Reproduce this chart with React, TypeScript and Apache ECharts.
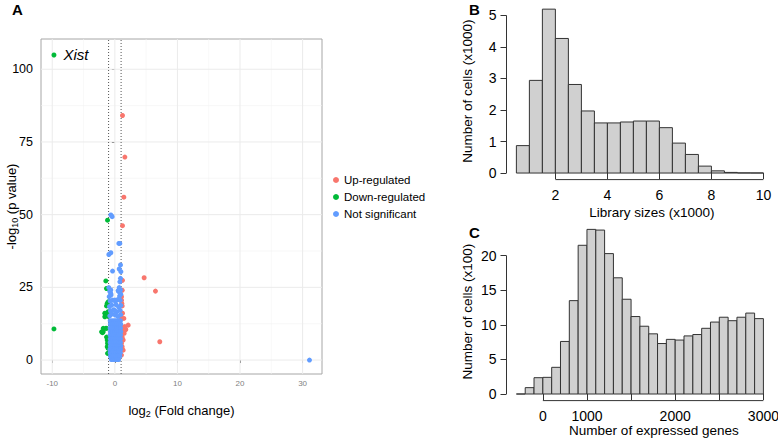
import React, { useEffect, useRef } from 'react';
import * as echarts from 'echarts';

const FONT = "'Liberation Sans', Arial, Helvetica, sans-serif";

// ---------- Panel A: volcano plot ----------
const upRegulated: number[][] = [
  [1.22, 84.1], [1.6, 69.8], [1.44, 56.0], [1.22, 46.2], [4.68, 28.3], [6.49, 23.7],
  [1.22, 27.4], [1.17, 24.0], [1.06, 21.8], [1.06, 20.6], [1.11, 19.5], [1.17, 18.6],
  [1.22, 16.1], [1.06, 14.4], [1.44, 14.3], [1.11, 11.6], [1.6, 11.5], [1.75, 10.5],
  [1.6, 10.9], [2.13, 12.0], [1.44, 10.1], [1.49, 9.2], [1.22, 9.2], [1.11, 8.0],
  [1.17, 7.8], [1.33, 6.9], [1.06, 5.8], [1.17, 4.6], [1.11, 4.0], [1.33, 3.4],
  [1.06, 1.7], [7.18, 6.3],
];

const downRegulated: number[][] = [
  [-9.73, 104.9], [-1.17, 48.1], [-1.44, 27.2], [-1.33, 24.6], [-1.07, 20.0], [-1.22, 19.5],
  [-1.33, 18.6], [-1.07, 16.6], [-1.6, 16.1], [-1.44, 15.5], [-1.07, 15.0], [-1.6, 14.9],
  [-1.86, 10.9], [-1.44, 10.9], [-1.33, 10.9], [-2.12, 9.7], [-1.97, 9.4], [-1.86, 9.7],
  [-1.33, 7.9], [-1.17, 7.5], [-1.22, 6.9], [-1.17, 5.8], [-1.22, 4.6], [-1.07, 4.0],
  [-1.17, 2.3], [-9.73, 10.7],
];
const labelledGene = 'Xist';
const labelledGeneIndex = 0;

const notSignificant: number[][] = [
  [-0.64, 49.9], [-0.43, 49.3], [0.64, 40.1], [0.8, 40.1], [-0.96, 36.3], [-0.64, 36.9],
  [-0.37, 30.6], [0.9, 32.7], [0.69, 31.3], [0.96, 30.4], [0.9, 28.1], [0.8, 26.9],
  [-0.96, 24.9], [-0.64, 24.1], [0.69, 24.9], [0.9, 24.1],
  [-0.8, 23.6], [-0.65, 22.9], [0.55, 23.7], [0.8, 23.1], [0.53, 23.9],
  [-0.9, 21.8], [-0.6, 22.4], [0.75, 22.0], [0.95, 22.6],
  [-0.75, 20.3], [-0.35, 20.6], [0.0, 20.6], [0.1, 20.2], [0.45, 20.8], [0.85, 20.5],
  [-0.85, 18.4], [-0.5, 18.9], [0.6, 18.2], [0.95, 18.8], [0.2, 19.0],
  [-0.7, 16.9], [-0.2, 17.3], [0.3, 16.6], [0.85, 17.1], [0.0, 17.0],
  [-0.8, 15.2], [-0.45, 15.8], [0.05, 15.5], [0.5, 15.0], [0.92, 15.6],
  [-0.75, 13.5], [-0.41, 13.5], [-0.07, 13.5], [0.25, 13.5], [0.56, 13.5], [0.9, 13.5],
  [-0.72, 12.3], [-0.39, 12.3], [-0.03, 12.3], [0.3, 12.3], [0.61, 12.3], [0.94, 12.3],
  [-0.76, 11.0], [-0.42, 11.0], [-0.06, 11.0], [0.27, 11.0], [0.59, 11.0], [0.92, 11.0],
  [-0.73, 9.8], [-0.37, 9.8], [0.0, 9.8], [0.32, 9.8], [0.63, 9.8], [0.95, 9.8],
  [-0.77, 8.6], [-0.43, 8.6], [-0.09, 8.6], [0.26, 8.6], [0.57, 8.6], [0.91, 8.6],
  [-0.74, 7.3], [-0.4, 7.3], [-0.05, 7.3], [0.28, 7.3], [0.6, 7.3], [0.93, 7.3],
  [-0.76, 6.1], [-0.44, 6.1], [-0.1, 6.1], [0.24, 6.1], [0.58, 6.1], [0.9, 6.1],
  [-0.72, 4.9], [-0.38, 4.9], [-0.02, 4.9], [0.3, 4.9], [0.62, 4.9], [0.95, 4.9],
  [-0.78, 3.7], [-0.42, 3.7], [-0.08, 3.7], [0.25, 3.7], [0.6, 3.7], [0.92, 3.7],
  [-0.75, 2.5], [-0.45, 2.5], [-0.12, 2.5], [0.22, 2.5], [0.55, 2.5], [0.88, 2.5],
  [-0.7, 1.3], [-0.4, 1.3], [-0.1, 1.3], [0.2, 1.3], [0.5, 1.3], [0.8, 1.3],
  [-0.55, 0.2], [-0.25, 0.2], [0.05, 0.2], [0.35, 0.2], [0.6, 0.2],
  [31.1, 0.0],
];

const foldChangeThresholds = [-1, 1];
const volcanoXTicks = [-10, 0, 10, 20, 30];
const volcanoYTicks = [0, 25, 50, 75, 100];
const volcanoXMajorGrid = [-10, 0, 10, 20, 30];
const volcanoXMinorGrid = [-5, 5, 15, 25];
const volcanoYMajorGrid = [0, 25, 50, 75, 100];
const volcanoYMinorGrid = [12.5, 37.5, 62.5, 87.5];
const volcanoXRange = [-11.8, 33.1];
const volcanoYRange = [-4.8, 110.4];

// ---------- Panel B: library sizes histogram ----------
const libraryBreaks = [0.5, 1, 1.5, 2, 2.5, 3, 3.5, 4, 4.5, 5, 5.5, 6, 6.5, 7, 7.5, 8, 8.5, 9, 9.5, 10];
const libraryCounts = [0.87, 2.94, 5.2, 4.27, 2.81, 1.97, 1.59, 1.59, 1.62, 1.65, 1.65, 1.44, 0.95, 0.59, 0.22, 0.07, 0.02, 0.005, 0.003];
const libraryXTicks = [2, 4, 6, 8, 10];
const libraryYTicks = [0, 1, 2, 3, 4, 5];

// ---------- Panel C: expressed genes histogram ----------
const geneBreaks = [200, 300, 400, 500, 600, 700, 800, 900, 1000, 1100, 1200, 1300, 1400, 1500, 1600, 1700, 1800, 1900, 2000, 2100, 2200, 2300, 2400, 2500, 2600, 2700, 2800, 2900, 3000];
const geneCounts = [0, 0.92, 2.36, 2.41, 3.86, 7.6, 13.5, 21.5, 23.8, 23.7, 20.3, 16.8, 13.7, 11.2, 9.8, 8.7, 7.3, 7.9, 7.8, 8.4, 8.6, 9.5, 10.4, 11.1, 10.6, 11.1, 11.7, 10.9];
const geneTickPositions = [500, 1000, 1500, 2000, 2500, 3000];
const geneTickLabels = ['0', '1000', '', '2000', '', '3000'];
const geneYTicks = [0, 5, 10, 15, 20];

const RED = '#F8766D';
const GREEN = '#00BA38';
const BLUE = '#619CFF';

function histExtent(breaks: number[], counts: number[]) {
  const span = breaks[breaks.length - 1] - breaks[0];
  const maxC = Math.max(...counts);
  return {
    xMin: breaks[0] - 0.04 * span,
    xMax: breaks[breaks.length - 1] + 0.04 * span,
    yMin: -0.04 * maxC,
    yMax: maxC * 1.04,
  };
}

function histSeries(idx: number, breaks: number[], counts: number[]) {
  return {
    type: 'custom',
    xAxisIndex: idx,
    yAxisIndex: idx,
    z: 2,
    silent: true,
    data: counts.map((c, i) => [breaks[i], breaks[i + 1], c]),
    encode: { x: [0, 1], y: 2 },
    renderItem: (_p: any, api: any) => {
      const a = api.coord([api.value(0), 0]);
      const b = api.coord([api.value(1), api.value(2)]);
      return {
        type: 'rect',
        shape: { x: a[0], y: b[1], width: b[0] - a[0], height: a[1] - b[1] },
        style: { fill: '#d0d0d0', stroke: '#333333', lineWidth: 1 },
      };
    },
  };
}

// R-style axis lines from first to last tick
function rAxisLines(idx: number, ext: any, xFrom: number, xTo: number, yFrom: number, yTo: number) {
  return {
    type: 'custom',
    xAxisIndex: idx,
    yAxisIndex: idx,
    z: 3,
    silent: true,
    data: [[0, xFrom, xTo], [1, yFrom, yTo]],
    encode: { x: 1, y: 2 },
    renderItem: (_p: any, api: any) => {
      const kind = api.value(0);
      let p1, p2;
      if (kind === 0) {
        p1 = api.coord([api.value(1), ext.yMin]);
        p2 = api.coord([api.value(2), ext.yMin]);
      } else {
        p1 = api.coord([ext.xMin, api.value(1)]);
        p2 = api.coord([ext.xMin, api.value(2)]);
      }
      return {
        type: 'line',
        shape: { x1: p1[0], y1: p1[1], x2: p2[0], y2: p2[1] },
        style: { stroke: '#333333', lineWidth: 1 },
      };
    },
  };
}

function refLines(values: number[], vertical: boolean, style: any, z: number) {
  return {
    type: 'custom',
    xAxisIndex: 0,
    yAxisIndex: 0,
    z,
    silent: true,
    data: values.map((v) => [v]),
    encode: vertical ? { x: 0 } : { y: 0 },
    renderItem: (_p: any, api: any) => {
      const v = api.value(0);
      const p1 = vertical ? api.coord([v, volcanoYRange[0]]) : api.coord([volcanoXRange[0], v]);
      const p2 = vertical ? api.coord([v, volcanoYRange[1]]) : api.coord([volcanoXRange[1], v]);
      return {
        type: 'line',
        shape: { x1: p1[0], y1: p1[1], x2: p2[0], y2: p2[1] },
        style,
      };
    },
  };
}

export default function App() {
  const ref = useRef<HTMLDivElement>(null);
  useEffect(() => {
    if (!ref.current) return;
    const chart = echarts.init(ref.current, null, { renderer: 'svg' });
    const libExt = histExtent(libraryBreaks, libraryCounts);
    const geneExt = histExtent(geneBreaks, geneCounts);
    const tickStyle = { color: '#333333', width: 1 };
    const geneLabelValues = geneTickPositions.filter((_, i) => geneTickLabels[i] !== '');

    const downData = downRegulated.map((p, i) =>
      i === labelledGeneIndex
        ? {
            value: p,
            label: {
              show: true,
              formatter: labelledGene,
              position: 'right',
              distance: 7,
              fontStyle: 'italic',
              fontSize: 15,
              color: '#000',
              fontFamily: FONT,
            },
          }
        : p
    );

    chart.setOption({
      animation: false,
      textStyle: { fontFamily: FONT },
      grid: [
        { left: 41, top: 39, width: 281, height: 335, show: true, borderColor: '#a6a6a6', borderWidth: 1, backgroundColor: '#ffffff', outerBoundsMode: 'none', containLabel: false },
        { left: 506.5, top: 2.6, width: 266.8, height: 177, outerBoundsMode: 'none', containLabel: false },
        { left: 506.5, top: 222.8, width: 266.8, height: 177.8, outerBoundsMode: 'none', containLabel: false },
      ],
      legend: {
        data: ['Up-regulated', 'Down-regulated', 'Not significant'],
        orient: 'vertical',
        left: 333,
        top: 174,
        icon: 'circle',
        itemWidth: 6,
        itemHeight: 6,
        itemGap: 5,
        padding: 0,
        textStyle: { fontSize: 11.5, color: '#000', fontFamily: FONT },
      },
      xAxis: [
        {
          gridIndex: 0,
          type: 'value',
          min: volcanoXRange[0],
          max: volcanoXRange[1],
          axisLine: { show: false },
          splitLine: { show: false },
          axisTick: { show: true, customValues: volcanoXTicks, length: 3, lineStyle: { color: '#555' } },
          axisLabel: { customValues: volcanoXTicks, fontSize: 8, color: '#7f7f7f', margin: 5 },
          name: 'log{sub|2} (Fold change)',
          nameLocation: 'middle',
          nameGap: 28,
          nameMoveOverlap: false,
          nameTextStyle: { fontSize: 13, color: '#000', rich: { sub: { fontSize: 9, padding: [7, 0, 0, 0] } } },
        },
        {
          gridIndex: 1,
          type: 'value',
          min: libExt.xMin,
          max: libExt.xMax,
          axisLine: { show: false },
          splitLine: { show: false },
          axisTick: { show: true, customValues: libraryXTicks, length: 6, lineStyle: tickStyle },
          axisLabel: { customValues: libraryXTicks, fontSize: 14, color: '#000', margin: 8 },
          name: 'Library sizes (x1000)',
          nameLocation: 'middle',
          nameGap: 26,
          nameMoveOverlap: false,
          nameTextStyle: { fontSize: 13.5, color: '#000', padding: [0, 0, 0, 24] },
        },
        {
          gridIndex: 2,
          type: 'value',
          min: geneExt.xMin,
          max: geneExt.xMax,
          axisLine: { show: false },
          splitLine: { show: false },
          axisTick: { show: true, customValues: geneTickPositions, length: 6, lineStyle: tickStyle },
          axisLabel: {
            customValues: geneLabelValues,
            fontSize: 14,
            color: '#000',
            margin: 8,
            formatter: (v: number) => {
              const i = geneTickPositions.indexOf(v);
              return i >= 0 ? geneTickLabels[i] : '';
            },
          },
          name: 'Number of expressed genes',
          nameLocation: 'middle',
          nameGap: 23,
          nameMoveOverlap: false,
          nameTextStyle: { fontSize: 13.5, color: '#000', padding: [0, 0, 0, 28] },
        },
      ],
      yAxis: [
        {
          gridIndex: 0,
          type: 'value',
          min: volcanoYRange[0],
          max: volcanoYRange[1],
          axisLine: { show: false },
          splitLine: { show: false },
          axisTick: { show: true, customValues: volcanoYTicks, length: 3, lineStyle: { color: '#555' } },
          axisLabel: { customValues: volcanoYTicks, fontSize: 12.5, color: '#000', margin: 8 },
          name: '-log{sub|10} (p value)',
          nameLocation: 'middle',
          nameRotate: 90,
          nameGap: 22,
          nameMoveOverlap: false,
          nameTextStyle: { fontSize: 13, color: '#000', rich: { sub: { fontSize: 9, padding: [7, 0, 0, 0] } } },
        },
        {
          gridIndex: 1,
          type: 'value',
          min: libExt.yMin,
          max: libExt.yMax,
          axisLine: { show: false },
          splitLine: { show: false },
          axisTick: { show: true, customValues: libraryYTicks, length: 6, lineStyle: tickStyle },
          axisLabel: { customValues: libraryYTicks, fontSize: 14, color: '#000', margin: 10 },
          name: 'Number of cells (x1000)',
          nameLocation: 'middle',
          nameRotate: 90,
          nameGap: 32,
          nameMoveOverlap: false,
          nameTextStyle: { fontSize: 13.5, color: '#000' },
        },
        {
          gridIndex: 2,
          type: 'value',
          min: geneExt.yMin,
          max: geneExt.yMax,
          axisLine: { show: false },
          splitLine: { show: false },
          axisTick: { show: true, customValues: geneYTicks, length: 6, lineStyle: tickStyle },
          axisLabel: { customValues: geneYTicks, fontSize: 14, color: '#000', margin: 10 },
          name: 'Number of cells (x100)',
          nameLocation: 'middle',
          nameRotate: 90,
          nameGap: 32,
          nameMoveOverlap: false,
          nameTextStyle: { fontSize: 13.5, color: '#000' },
        },
      ],
      graphic: [
        { type: 'text', left: 12, top: 2, style: { text: 'A', fontSize: 15, fontWeight: 'bold', fill: '#000', fontFamily: FONT } },
        { type: 'text', left: 469, top: 2, style: { text: 'B', fontSize: 15, fontWeight: 'bold', fill: '#000', fontFamily: FONT } },
        { type: 'text', left: 469, top: 225, style: { text: 'C', fontSize: 15, fontWeight: 'bold', fill: '#000', fontFamily: FONT } },
      ],
      series: [
        refLines(volcanoXMinorGrid, true, { stroke: '#f3f3f3', lineWidth: 0.6 }, 1),
        refLines(volcanoYMinorGrid, false, { stroke: '#f3f3f3', lineWidth: 0.6 }, 1),
        refLines(volcanoXMajorGrid, true, { stroke: '#ebebeb', lineWidth: 1 }, 1),
        refLines(volcanoYMajorGrid, false, { stroke: '#ebebeb', lineWidth: 1 }, 1),
        refLines(foldChangeThresholds, true, { stroke: '#555555', lineWidth: 1, lineDash: [1, 2] }, 1.5),
        {
          name: 'Up-regulated',
          type: 'scatter',
          xAxisIndex: 0,
          yAxisIndex: 0,
          z: 2,
          symbolSize: 5,
          itemStyle: { color: RED, opacity: 1 },
          data: upRegulated,
        },
        {
          name: 'Down-regulated',
          type: 'scatter',
          xAxisIndex: 0,
          yAxisIndex: 0,
          z: 2,
          symbolSize: 5,
          itemStyle: { color: GREEN, opacity: 1 },
          data: downData,
        },
        {
          name: 'Not significant',
          type: 'scatter',
          xAxisIndex: 0,
          yAxisIndex: 0,
          z: 2,
          symbolSize: 5,
          itemStyle: { color: BLUE, opacity: 1 },
          data: notSignificant,
        },
        histSeries(1, libraryBreaks, libraryCounts),
        rAxisLines(1, libExt, libraryXTicks[0], libraryXTicks[libraryXTicks.length - 1], libraryYTicks[0], libraryYTicks[libraryYTicks.length - 1]),
        histSeries(2, geneBreaks, geneCounts),
        rAxisLines(2, geneExt, geneTickPositions[0], geneTickPositions[geneTickPositions.length - 1], geneYTicks[0], geneYTicks[geneYTicks.length - 1]),
      ],
    });
    return () => chart.dispose();
  }, []);

  return (
    <div
      ref={ref}
      style={{ position: 'fixed', left: 0, top: 0, width: 778, height: 438, background: '#fff' }}
    />
  );
}
